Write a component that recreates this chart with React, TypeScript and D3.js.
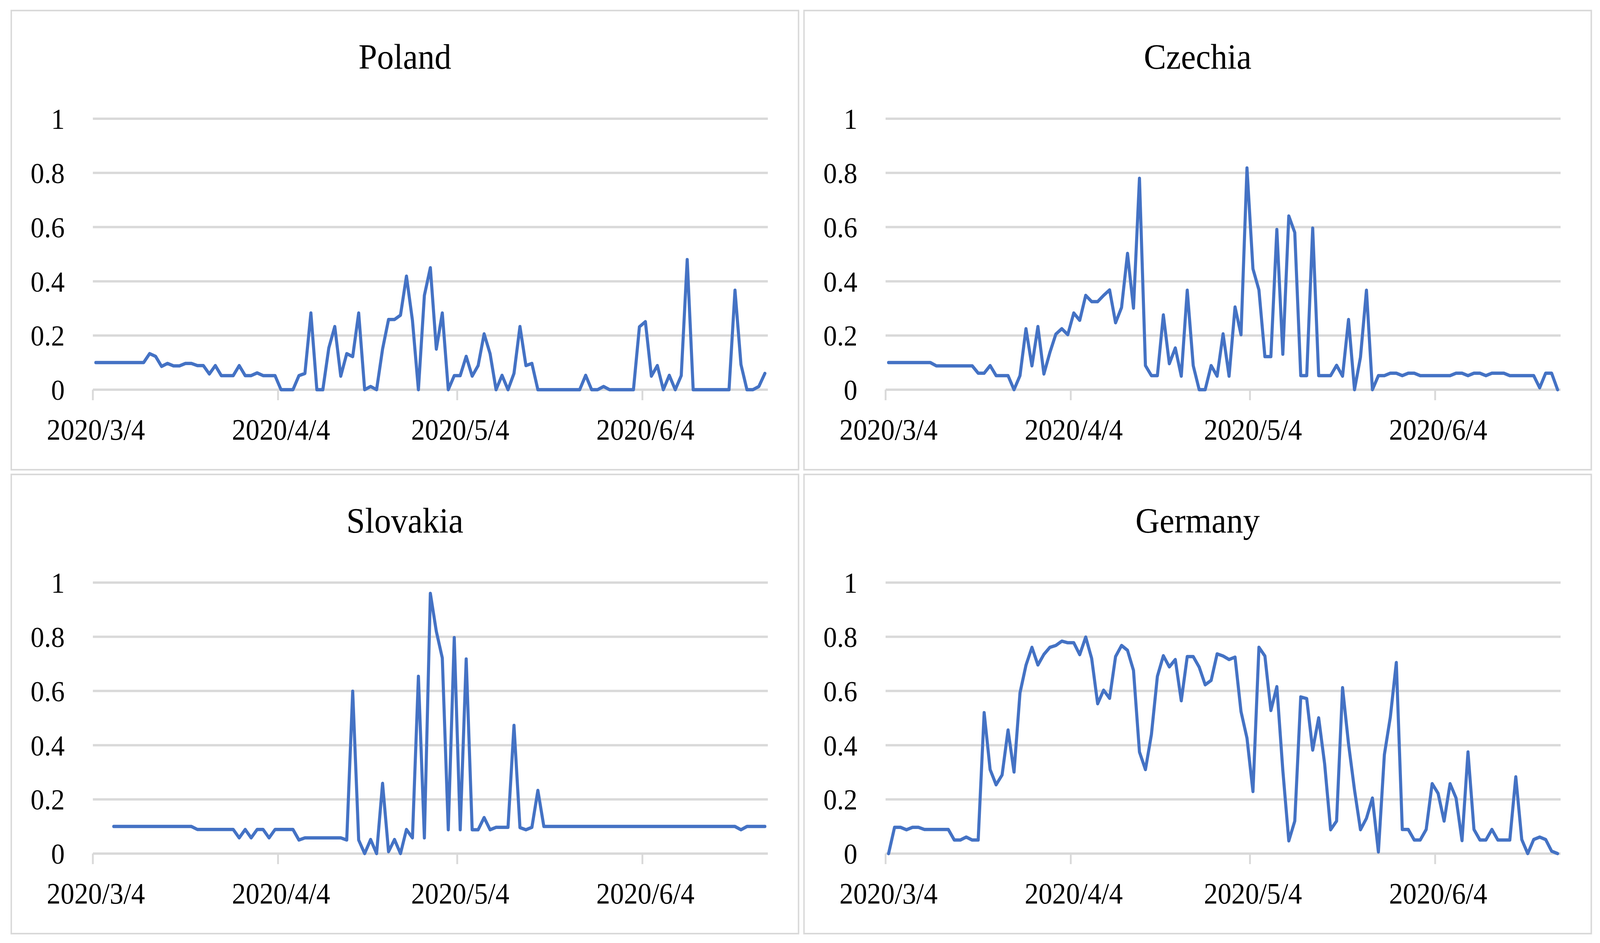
import React, { useEffect, useRef } from 'react';
import * as d3 from 'd3';

const startDate = new Date(Date.UTC(2020, 2, 4));
const endDate = new Date(Date.UTC(2020, 5, 24));
const tickDates = [
    new Date(Date.UTC(2020, 2, 4)),
    new Date(Date.UTC(2020, 3, 4)),
    new Date(Date.UTC(2020, 4, 4)),
    new Date(Date.UTC(2020, 5, 4)),
];
const tickLabels = ['2020/3/4', '2020/4/4', '2020/5/4', '2020/6/4'];
const yTicks = [0, 0.2, 0.4, 0.6, 0.8, 1];

const countries = ['Poland', 'Czechia', 'Slovakia', 'Germany'];

const poland = [
    0.1, 0.1, 0.1, 0.1, 0.1, 0.1, 0.1, 0.1, 0.1, 0.133, 0.123, 0.086, 0.097, 0.088, 0.088, 0.097,
    0.097, 0.089, 0.089, 0.058, 0.089, 0.052, 0.052, 0.052, 0.089, 0.052, 0.052, 0.062, 0.052, 0.052,
    0.052, 0, 0, 0, 0.052, 0.06, 0.283, 0, 0, 0.154, 0.233, 0.05, 0.133, 0.122, 0.283, 0, 0.012, 0,
    0.15, 0.259, 0.259, 0.275, 0.419, 0.256, 0, 0.348, 0.45, 0.15, 0.283, 0, 0.052, 0.052, 0.123,
    0.05, 0.089, 0.206, 0.133, 0, 0.053, 0, 0.06, 0.233, 0.089, 0.097, 0, 0, 0, 0, 0, 0, 0, 0,
    0.053, 0, 0, 0.012, 0, 0, 0, 0, 0, 0.232, 0.251, 0.05, 0.089, 0, 0.053, 0, 0.052, 0.48,
    0, 0, 0, 0, 0, 0, 0, 0.367, 0.093, 0, 0, 0.012, 0.06,
];

const czechia = [
    0.1, 0.1, 0.1, 0.1, 0.1, 0.1, 0.1, 0.1, 0.088, 0.088, 0.088, 0.088, 0.088, 0.088, 0.088,
    0.061, 0.061, 0.089, 0.052, 0.052, 0.052, 0, 0.052, 0.225, 0.088, 0.233, 0.058, 0.137, 0.205,
    0.225, 0.203, 0.283, 0.256, 0.348, 0.325, 0.325, 0.348, 0.368, 0.247, 0.303, 0.503, 0.301,
    0.78, 0.089, 0.052, 0.052, 0.276, 0.096, 0.154, 0.05, 0.367, 0.089, 0, 0, 0.089, 0.05, 0.206,
    0.05, 0.305, 0.203, 0.818, 0.446, 0.368, 0.122, 0.122, 0.591, 0.131, 0.641, 0.58, 0.052, 0.052,
    0.596, 0.052, 0.052, 0.052, 0.09, 0.05, 0.259, 0, 0.12, 0.367, 0, 0.052, 0.052, 0.061, 0.061,
    0.052, 0.061, 0.061, 0.052, 0.052, 0.052, 0.052, 0.052, 0.052, 0.061, 0.061, 0.052, 0.061,
    0.061, 0.052, 0.061, 0.061, 0.061, 0.052, 0.052, 0.052, 0.052, 0.052, 0.007, 0.061, 0.061, 0,
];

const slovakia = [
    null, null, null, 0.1, 0.1, 0.1, 0.1, 0.1, 0.1, 0.1, 0.1, 0.1, 0.1, 0.1, 0.1, 0.1, 0.1,
    0.089, 0.089, 0.089, 0.089, 0.089, 0.089, 0.089, 0.058, 0.089, 0.058, 0.089, 0.089, 0.058,
    0.089, 0.089, 0.089, 0.089, 0.05, 0.058, 0.058, 0.058, 0.058, 0.058, 0.058, 0.058, 0.05, 0.599,
    0.05, 0, 0.052, 0, 0.259, 0.007, 0.052, 0, 0.089, 0.058, 0.654, 0.058, 0.96, 0.82, 0.722, 0.088,
    0.797, 0.088, 0.718, 0.088, 0.088, 0.133, 0.088, 0.097, 0.097, 0.097, 0.473, 0.096, 0.088,
    0.097, 0.233, 0.1, 0.1, 0.1, 0.1, 0.1, 0.1, 0.1, 0.1, 0.1, 0.1, 0.1, 0.1, 0.1, 0.1, 0.1, 0.1,
    0.1, 0.1, 0.1, 0.1, 0.1, 0.1, 0.1, 0.1, 0.1, 0.1, 0.1, 0.1, 0.1, 0.1, 0.1, 0.1, 0.1, 0.088,
    0.1, 0.1, 0.1, 0.1,
];

const germany = [
    0, 0.097, 0.097, 0.088, 0.097, 0.097, 0.089, 0.089, 0.089, 0.089, 0.089, 0.05, 0.05, 0.061,
    0.05, 0.05, 0.52, 0.31, 0.254, 0.29, 0.456, 0.301, 0.593, 0.695, 0.761, 0.696, 0.735, 0.761,
    0.768, 0.784, 0.778, 0.778, 0.734, 0.799, 0.72, 0.553, 0.603, 0.573, 0.727, 0.768, 0.75, 0.676,
    0.375, 0.31, 0.439, 0.654, 0.73, 0.689, 0.716, 0.564, 0.727, 0.727, 0.688, 0.623, 0.639, 0.737,
    0.729, 0.716, 0.725, 0.524, 0.426, 0.229, 0.761, 0.729, 0.528, 0.616, 0.307, 0.047, 0.12, 0.578,
    0.572, 0.382, 0.501, 0.331, 0.088, 0.12, 0.612, 0.405, 0.235, 0.088, 0.13, 0.205, 0.006, 0.365,
    0.504, 0.705, 0.089, 0.089, 0.05, 0.05, 0.089, 0.258, 0.222, 0.12, 0.258, 0.205, 0.048, 0.375,
    0.089, 0.05, 0.05, 0.089, 0.05, 0.05, 0.05, 0.283, 0.052, 0, 0.052, 0.061, 0.052, 0.009, 0,
];

const seriesList = [poland, czechia, slovakia, germany];

const W = 4404;
const H = 2415;

const App: React.FC = () => {
    const svgRef = useRef<SVGSVGElement | null>(null);

    useEffect(() => {
        const svg = d3.select(svgRef.current);
        svg.selectAll('*').remove();

        const panelW = 2167;
        const panelH = 1176;
        const origins = [[31, 27], [2213, 27], [31, 1215], [2213, 1215]];
        const grid = {left: 224.6, right: 2082.5, top: 277, zero: 971};
        const font = '"Palatino Linotype", Palatino, "Book Antiqua", "Liberation Serif", serif';

        const days = d3.utcDay.range(startDate, d3.utcDay.offset(endDate, 1));

        const x = d3.scaleUtc()
            .domain([startDate, d3.utcDay.offset(endDate, 1)])
            .range([grid.left, grid.right]);
        const y = d3.scaleLinear().domain([0, 1]).range([grid.zero, grid.top]);
        const mid = (d: Date) => x(d3.utcHour.offset(d, 12));

        svg.append('rect').attr('width', W).attr('height', H).attr('fill', 'white');

        countries.forEach((name, k) => {
            const [ox, oy] = origins[k];
            const g = svg.append('g').attr('transform', `translate(${ox}, ${oy})`);

            g.append('rect')
                .attr('width', panelW)
                .attr('height', panelH)
                .attr('fill', 'white')
                .attr('stroke', '#d9d9d9')
                .attr('stroke-width', 4);

            g.append('text')
                .attr('x', panelW / 2)
                .attr('y', 149)
                .attr('text-anchor', 'middle')
                .attr('font-family', font)
                .attr('font-size', 92)
                .attr('fill', '#000')
                .text(name);

            // gridlines
            g.selectAll('.grid')
                .data(yTicks)
                .enter()
                .append('line')
                .attr('x1', grid.left)
                .attr('x2', grid.right)
                .attr('y1', d => y(d))
                .attr('y2', d => y(d))
                .attr('stroke', '#d9d9d9')
                .attr('stroke-width', 6);

            g.selectAll('.ylab')
                .data(yTicks)
                .enter()
                .append('text')
                .attr('x', 147)
                .attr('y', d => y(d))
                .attr('dy', '0.35em')
                .attr('text-anchor', 'end')
                .attr('font-family', font)
                .attr('font-size', 75)
                .attr('fill', '#000')
                .text(d => String(d));

            // x ticks
            g.selectAll('.xtick')
                .data(tickDates)
                .enter()
                .append('line')
                .attr('x1', d => x(d))
                .attr('x2', d => x(d))
                .attr('y1', grid.zero)
                .attr('y2', grid.zero + 27)
                .attr('stroke', '#d9d9d9')
                .attr('stroke-width', 5);

            g.selectAll('.xlab')
                .data(tickDates)
                .enter()
                .append('text')
                .attr('x', d => mid(d))
                .attr('y', 1099)
                .attr('text-anchor', 'middle')
                .attr('font-family', font)
                .attr('font-size', 76)
                .attr('fill', '#000')
                .text((_, i) => tickLabels[i]);

            const values = seriesList[k];
            const line = d3.line<number | null>()
                .defined(d => d !== null)
                .x((_, i) => mid(days[i]))
                .y(d => y(d as number));

            g.append('path')
                .datum(values)
                .attr('d', line)
                .attr('fill', 'none')
                .attr('stroke', '#4472C4')
                .attr('stroke-width', 8.5)
                .attr('stroke-linejoin', 'round')
                .attr('stroke-linecap', 'round');
        });
    }, []);

    return (
        <svg
            ref={svgRef}
            viewBox={`0 0 ${W} ${H}`}
            preserveAspectRatio="none"
            style={{position: 'absolute', left: 0, top: 0, width: '100vw', height: '100vh', display: 'block'}}
        />
    );
};

export default App;
